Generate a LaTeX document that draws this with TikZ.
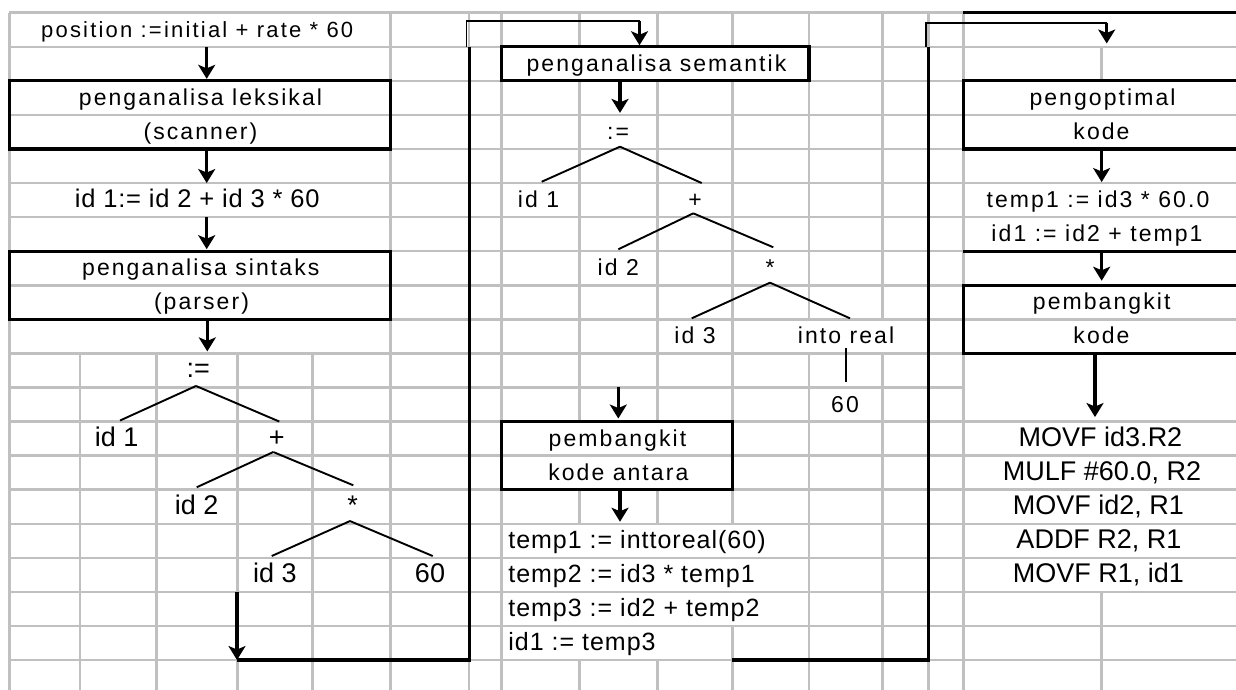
\documentclass[tikz,border=0pt]{standalone}
\usepackage{fontspec}
\setmainfont{Liberation Sans}
\usetikzlibrary{arrows.meta}
\definecolor{gridc}{RGB}{192,192,192}
\tikzset{
  gl/.style={draw=gridc, line width=2.5pt, line cap=square},
  bx/.style={draw=black, line width=3.3pt, rectangle, inner sep=0pt, outer sep=0pt},
  bl/.style={draw=black, line width=3.3pt},
  lk/.style={draw=black, line width=1.8pt},
  tl/.style={draw=black, line width=1.9pt},
  arr/.style={draw=black, line width=3.5pt, -{Stealth[length=14pt,width=17pt,inset=3.5pt]}},
  cell/.style={inner sep=0pt, outer sep=0pt, anchor=base, text height=24.57pt, text depth=9.5pt},
  fA/.style={cell, font=\fontsize{22}{26}\selectfont\addfontfeature{LetterSpace=10}},
  fB/.style={cell, font=\fontsize{25.5}{30}\selectfont\addfontfeature{LetterSpace=3}},
  fC/.style={cell, font=\fontsize{23}{28}\selectfont\addfontfeature{LetterSpace=9}},
  fD/.style={cell, font=\fontsize{27}{32}\selectfont},
  fE/.style={cell, anchor=base west, font=\fontsize{25}{30}\selectfont\addfontfeature{LetterSpace=4}},
}
\begin{document}
\begin{tikzpicture}[x=1pt,y=-1pt]
\useasboundingbox (0,0) rectangle (1236,690);
\fill[white] (0,0) rectangle (1236,690);

% ---------- grid ----------
\foreach \i in {1,...,10,12,13,14,15,16,17,18,19}
  \draw[gl] (9.3,{12.7+34.07*\i}) -- (1240,{12.7+34.07*\i});
\draw[gl] (9.3,12.7) -- (963.3,12.7);
\draw[gl] (9.3,387.47) -- (963.3,387.47);
\foreach \x/\a/\b in {9.3/12.7/692, 80/353.4/692, 156.7/353.4/692, 237.7/353.4/692,
  312.3/353.4/692, 390.7/12.7/692, 469/12.7/692, 501.7/12.7/692,
  579.3/12.7/46.77, 579.3/80.84/421.54, 579.3/489.68/523.75, 579.3/660.03/692,
  657.7/12.7/46.77, 657.7/80.84/421.54, 657.7/489.68/523.75, 657.7/660.03/692,
  732.3/12.7/46.77, 732.3/80.84/421.54, 732.3/489.68/523.75, 732.3/625.96/692,
  809/12.7/319.33, 809/353.4/692, 882.3/12.7/319.33, 882.3/353.4/692,
  928.3/12.7/692, 963.3/12.7/692, 1101.7/46.77/80.84, 1101.7/591.89/692}
  \draw[gl] (\x,\a) -- (\x,\b);

% ---------- boxes ----------
\node[bx, minimum width=381.4pt, minimum height=68.14pt] (lex) at (200,114.91) {};
\node[bx, minimum width=381.4pt, minimum height=68.14pt] (sin) at (200,285.26) {};
\node[bx, minimum width=307.3pt, minimum height=34.07pt] (sem) at (655.35,63.805) {};
\node[bx, minimum width=230.6pt, minimum height=68.14pt] (kant) at (617,455.61) {};
\node[bx, minimum width=276.7pt, minimum height=68.14pt] (opt) at (1101.65,114.91) {};
\node[bx, minimum width=276.7pt, minimum height=68.14pt] (pk) at (1101.65,319.33) {};

% ---------- left column texts ----------
\node[fA] (pos) at (197.2,37.27) {position :=initial + rate * 60};
\node[fC] (lext1) at (200.5,105.41) {penganalisa leksikal};
\node[fC] (lext2) at (200.5,139.48) {(scanner)};
\node[fB] (idl) at (197.2,207.62) {id 1:= id 2 + id 3 * 60};
\node[fC] (sint1) at (200.8,275.76) {penganalisa sintaks};
\node[fC] (sint2) at (201.5,309.83) {(parser)};
\node[fD] (la) at (198.3,377.97) {:=};
\node[fD] (lid1) at (116.7,446.11) {id 1};
\node[fD] (lplus) at (276.7,446.11) {+};
\node[fD] (lid2) at (196.7,514.25) {id 2};
\node[fD] (lstar) at (352.7,514.25) {*};
\node[fD] (lid3) at (275,582.39) {id 3};
\node[fD] (l60) at (430,582.39) {60};

% ---------- middle column texts ----------
\node[fC] (semt) at (656.5,71.34) {penganalisa semantik};
\node[fC] (ma) at (618,139.48) {:=};
\node[fC] (mid1) at (538.5,207.62) {id 1};
\node[fC] (mplus) at (695,207.62) {+};
\node[fC] (mid2) at (618.3,275.76) {id 2};
\node[fC] (mstar) at (770,275.76) {*};
\node[fC] (mid3) at (695,343.9) {id 3};
\node[fC] (minto) at (846,343.9) {into real};
\node[fC] (m60) at (845,412.04) {60};
\node[fC] (kat1) at (617.5,446.11) {pembangkit};
\node[fC] (kat2) at (618.3,480.18) {kode antara};
\node[fE] (mt1) at (508.3,548.32) {temp1 := inttoreal(60)};
\node[fE] (mt2) at (508.3,582.39) {temp2 := id3 * temp1};
\node[fE] (mt3) at (508.3,616.46) {temp3 := id2 + temp2};
\node[fE] (mt4) at (508.3,650.53) {id1 := temp3};

% ---------- right column texts ----------
\node[fC] (opt1) at (1102.5,105.41) {pengoptimal};
\node[fC] (opt2) at (1101.5,139.48) {kode};
\node[fC] (rt1) at (1098,207.62) {temp1 := id3 * 60.0};
\node[fC] (rt2) at (1097,241.69) {id1 := id2 + temp1};
\node[fC] (pk1) at (1101.7,309.83) {pembangkit};
\node[fC] (pk2) at (1101.5,343.9) {kode};
\node[fD] (mc1) at (1100.5,446.11) {MOVF id3.R2};
\node[fD] (mc2) at (1102,480.18) {MULF \#60.0, R2};
\node[fD] (mc3) at (1098.3,514.25) {MOVF id2, R1};
\node[fD] (mc4) at (1099,548.32) {ADDF R2, R1};
\node[fD] (mc5) at (1098.3,582.39) {MOVF R1, id1};

% ---------- black rules on the right ----------
\coordinate (rtop) at (963.3,12.7);
\draw[bl] (rtop) -- (rtop -| 1240,0);
\draw[bl] (pk.west |- rt2.south) -- (pk.east |- rt2.south);

% ---------- left column arrows ----------
\draw[arr, shorten >=2pt] ([xshift=6.7pt]lex.north |- pos.south) -- ([xshift=6.7pt]lex.north);
\draw[arr] ([xshift=6.7pt]lex.south) -- ([xshift=6.7pt]lex.south |- idl.north);
\draw[arr, shorten >=2pt] ([xshift=6.7pt]sin.north |- idl.south) -- ([xshift=6.7pt]sin.north);
\draw[arr, shorten >=2pt] ([xshift=7.3pt]sin.south) -- ([xshift=7.3pt]sin.south |- la.north);

% left tree
\draw[tl] ([xshift=-2.3pt,yshift=1.5pt]la.south) -- ([xshift=3.3pt,yshift=1pt]lid1.north);
\draw[tl] ([xshift=-2.3pt,yshift=1.5pt]la.south) -- ([xshift=2.6pt]lplus.north);
\draw[tl] ([xshift=-3.4pt,yshift=3.6pt]lplus.south) -- ([yshift=2.4pt]lid2.north);
\draw[tl] ([xshift=-3.4pt,yshift=3.6pt]lplus.south) -- ([xshift=0.6pt,yshift=4.4pt]lstar.north);
\draw[tl] ([xshift=-2.7pt,yshift=2.7pt]lstar.south) -- ([xshift=-3.3pt,yshift=1.8pt]lid3.north);
\draw[tl] ([xshift=-2.7pt,yshift=2.7pt]lstar.south) -- ([xshift=2.7pt,yshift=1.8pt]l60.north);

% left loop to semantic box
\coordinate (lb1) at (237,592);
\coordinate (lb2) at (237,660.03);
\coordinate (lb3) at (469.5,660.03);
\coordinate (lb4) at (469.5,46.77);
\coordinate (lb5) at (466.5,20.7);
\coordinate (lb6) at (639.5,20.7);
\draw[arr] (lb1) -- (lb2);
\draw[bl] (lb2) -- (lb3) -- (lb4);
\draw[lk] (lb5 |- lb4) -- (lb5) -- (lb6);
\draw[arr, shorten >=1.5pt] (lb6) -- (lb6 |- sem.north);

% ---------- middle column ----------
\draw[arr, shorten >=2pt] ([xshift=-35.35pt]sem.south) -- ([xshift=-35.35pt]sem.south |- ma.north);
\draw[tl] ([xshift=2pt,yshift=2.3pt]ma.south) -- ([xshift=3.2pt,yshift=1.3pt]mid1.north);
\draw[tl] ([xshift=2pt,yshift=2.3pt]ma.south) -- ([xshift=6.7pt]mplus.north);
\draw[tl] ([xshift=-1.7pt,yshift=3.8pt]mplus.south) -- ([yshift=1.9pt]mid2.north);
\draw[tl] ([xshift=-1.7pt,yshift=3.8pt]mplus.south) -- ([xshift=3.3pt,yshift=3.9pt]mstar.north);
\draw[tl] ([yshift=2.6pt]mstar.south) -- ([xshift=-3.3pt,yshift=1pt]mid3.north);
\draw[tl] ([yshift=2.6pt]mstar.south) -- ([xshift=4pt,yshift=1pt]minto.north);
\draw[tl] ([xshift=-0.3pt,yshift=5pt]minto.south) -- ([xshift=0.7pt,yshift=5.5pt]m60.north);
\draw[arr, shorten >=3pt] ([xshift=1.3pt]kant.north |- m60.north) -- ([xshift=1.3pt]kant.north);
\draw[arr, shorten >=2pt] ([xshift=3pt]kant.south) -- ([xshift=3pt]kant.south |- mt1.north);

% middle loop to right column
\coordinate (mb2) at (928.3,660.03);
\coordinate (mb3) at (928.3,46.77);
\coordinate (mb4) at (926,22.7);
\coordinate (mb5) at (1106.7,22.7);
\coordinate (mb6) at (1106.7,43.5);
\draw[bl] (kant.east |- mt4.south) -- (mb2) -- (mb3);
\draw[lk] (mb4 |- mb3) -- (mb4) -- (mb5);
\draw[arr] (mb5) -- (mb6);

% ---------- right column arrows ----------
\draw[arr, shorten >=1pt] (opt.south) -- (opt.south |- rt1.north);
\draw[arr, shorten >=4.5pt] (pk.north |- rt2.south) -- (pk.north);
\draw[arr, shorten >=4.5pt] ([xshift=-6.65pt,yshift=-1.5pt]pk.south) -- ([xshift=-6.65pt]pk.south |- mc1.north);
\end{tikzpicture}
\end{document}
